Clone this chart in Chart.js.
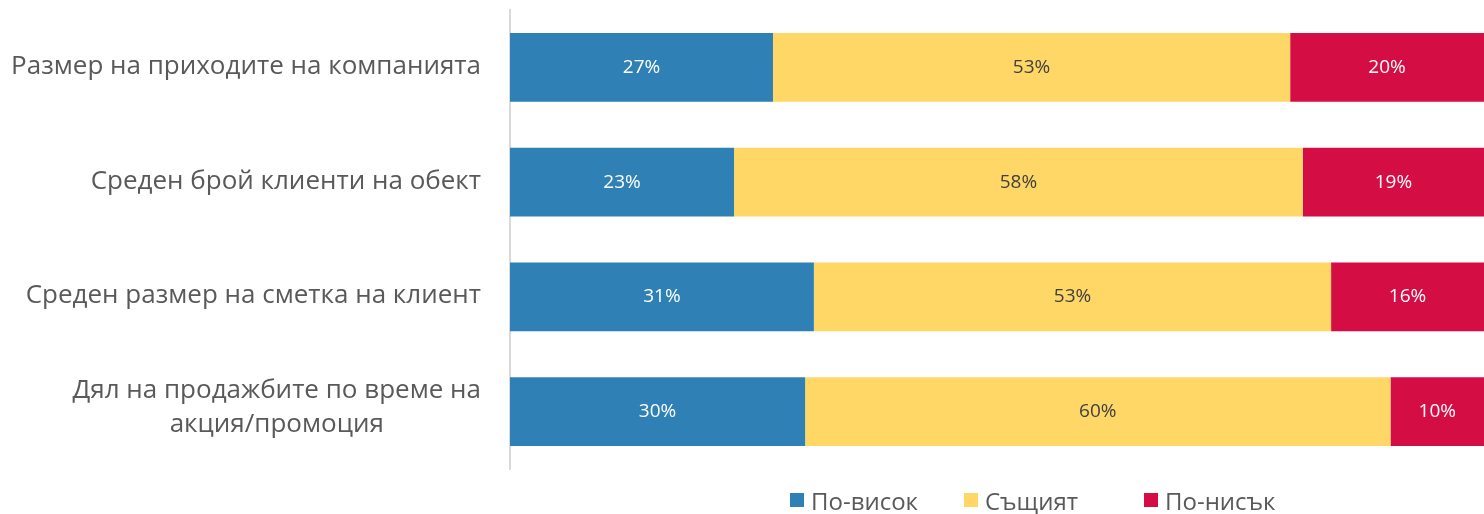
<!DOCTYPE html>
<html>
<head>
<meta charset="utf-8">
<script src="https://cdn.jsdelivr.net/npm/chart.js@4/dist/chart.umd.min.js"></script>
<style>
  html, body { margin: 0; padding: 0; background: #fff; }
  #wrap { position: relative; width: 1484px; height: 514px; }
  #legend { position: absolute; left: 0; top: 486px; width: 1484px; height: 28px; font-family: "Open Sans", sans-serif; font-size: 24px; color: #595959; }
  .item { position: absolute; top: 0; display: flex; align-items: center; height: 28px; white-space: nowrap; }
  .sw { width: 14px; height: 14px; margin-right: 7px; }
</style>
</head>
<body>
<div id="wrap">
  <canvas id="c" width="1484" height="514"></canvas>
  <div id="legend"></div>
</div>
<script>
const categories = [
  'Размер на приходите на компанията',
  'Среден брой клиенти на обект',
  'Среден размер на сметка на клиент',
  ['Дял на продажбите по време на', 'акция/промоция']
];
const seriesNames = ['По-висок', 'Същият', 'По-нисък'];
const higher = [27.0, 23.0, 31.2, 30.3];
const same = [53.1, 58.4, 53.1, 60.1];
const lower = [19.9, 18.6, 15.7, 9.6];
const colors = ['#2F81B5', '#FED766', '#D50D45'];
const labelColors = ['#FFFFFF', '#404040', '#FFFFFF'];
const legendLefts = [790, 964, 1144];

const valueLabels = {
  id: 'valueLabels',
  afterDatasetsDraw(chart) {
    const ctx = chart.ctx;
    ctx.save();
    ctx.font = '19px "Open Sans", sans-serif';
    ctx.textAlign = 'center';
    ctx.textBaseline = 'middle';
    chart.data.datasets.forEach((ds, i) => {
      const meta = chart.getDatasetMeta(i);
      meta.data.forEach((el, j) => {
        const p = el.getCenterPoint();
        ctx.fillStyle = labelColors[i];
        ctx.fillText(Math.round(ds.data[j]) + '%', p.x, p.y);
      });
    });
    ctx.restore();
  }
};

const catLabels = {
  id: 'catLabels',
  afterDraw(chart) {
    const ctx = chart.ctx;
    const y = chart.scales.y;
    ctx.save();
    ctx.font = '26px "Open Sans", sans-serif';
    ctx.fillStyle = '#595959';
    ctx.textBaseline = 'middle';
    const rightX = 481;
    categories.forEach((lab, i) => {
      const cy = y.getPixelForTick(i);
      if (Array.isArray(lab)) {
        const widths = lab.map(l => ctx.measureText(l).width);
        const maxW = Math.max(...widths);
        const cx = rightX - maxW / 2;
        const lh = 34;
        ctx.textAlign = 'center';
        lab.forEach((l, k) => {
          ctx.fillText(l, cx, cy - 4 + (k - (lab.length - 1) / 2) * lh);
        });
      } else {
        ctx.textAlign = 'right';
        ctx.fillText(lab, rightX, cy - 1);
      }
    });
    ctx.restore();
  }
};

const data = {
  labels: categories,
  datasets: [
    { label: seriesNames[0], data: higher, backgroundColor: colors[0] },
    { label: seriesNames[1], data: same, backgroundColor: colors[1] },
    { label: seriesNames[2], data: lower, backgroundColor: colors[2] }
  ]
};

new Chart(document.getElementById('c'), {
  type: 'bar',
  data,
  options: {
    indexAxis: 'y',
    responsive: false,
    animation: false,
    layout: { padding: { top: 10, bottom: 45, left: 0, right: 0 } },
    datasets: { bar: { categoryPercentage: 0.6, barPercentage: 1.0, borderWidth: 0 } },
    scales: {
      x: { stacked: true, min: 0, max: 100, display: false },
      y: {
        stacked: true,
        grid: { display: false },
        ticks: { display: false },
        border: { display: true, color: '#D9D9D9', width: 2 },
        afterFit(scale) { scale.width = 510; }
      }
    },
    plugins: {
      legend: { display: false },
      tooltip: { enabled: false }
    }
  },
  plugins: [valueLabels, catLabels]
});

const lg = document.getElementById('legend');
seriesNames.forEach((n, i) => {
  const it = document.createElement('div');
  it.className = 'item';
  it.style.left = legendLefts[i] + 'px';
  const sw = document.createElement('span');
  sw.className = 'sw';
  sw.style.background = colors[i];
  const t = document.createElement('span');
  t.textContent = n;
  it.appendChild(sw);
  it.appendChild(t);
  lg.appendChild(it);
});
</script>
</body>
</html>
